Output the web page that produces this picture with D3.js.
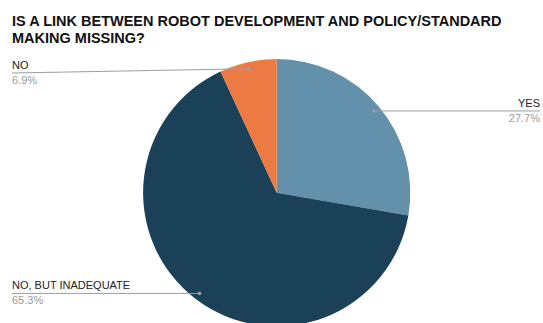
<!DOCTYPE html>
<html>
<head>
<meta charset="utf-8">
<script src="https://cdn.jsdelivr.net/npm/d3@7"></script>
<style>
  body { margin: 0; background: #fff; }
  svg { display: block; font-family: "Liberation Sans", Arial, sans-serif; }
</style>
</head>
<body>
<svg id="chart"></svg>
<script>
const categories = ["YES", "NO, BUT INADEQUATE", "NO"];
const values = [27.7, 65.3, 6.9];
const colors = ["#6390ab", "#1b4159", "#ec7a42"];
const titleLines = ["IS A LINK BETWEEN ROBOT DEVELOPMENT AND POLICY/STANDARD", "MAKING MISSING?"];

const width = 543;
const height = 323;
const cx = 276.7;
const cy = 192.7;
const radius = 133.6;

// where each label sits: side and y of the leader line at the text end
const labelPos = [
  { side: "right", x: 540, y: null },
  { side: "left", x: 12, y: null },
  { side: "left", x: 12, y: 73 }
];

const svg = d3.select("#chart").attr("width", width).attr("height", height);

svg
  .selectAll("text.title")
  .data(titleLines)
  .enter()
  .append("text")
  .attr("class", "title")
  .attr("x", 12)
  .attr("y", (d, i) => 26 + i * 17)
  .style("font-size", "14.5px")
  .style("font-weight", "bold")
  .style("fill", "#111")
  .text((d) => d);

const pie = d3.pie().sort(null).value((d) => d);
const arcs = pie(values);

const arc = d3.arc().innerRadius(0).outerRadius(radius);
const dotArc = d3.arc().innerRadius(radius * 0.95).outerRadius(radius * 0.95);

const g = svg.append("g").attr("transform", `translate(${cx},${cy})`);

g.selectAll("path")
  .data(arcs)
  .enter()
  .append("path")
  .attr("d", arc)
  .attr("fill", (d, i) => colors[i]);

arcs.forEach((d, i) => {
  const c = dotArc.centroid(d);
  const dx = cx + c[0];
  const dy = cy + c[1];
  const p = labelPos[i];
  const ly = p.y == null ? dy : p.y;

  svg
    .append("line")
    .attr("x1", p.x)
    .attr("y1", ly)
    .attr("x2", dx)
    .attr("y2", dy)
    .attr("stroke", "#9e9e9e")
    .attr("stroke-width", 1);

  svg
    .append("circle")
    .attr("cx", dx)
    .attr("cy", dy)
    .attr("r", 1.8)
    .attr("fill", "#9e9e9e");

  const anchor = p.side === "right" ? "end" : "start";

  svg
    .append("text")
    .attr("x", p.x)
    .attr("y", ly - 4.3)
    .attr("text-anchor", anchor)
    .style("font-size", "11px")
    .style("fill", "#222")
    .text(categories[i]);

  svg
    .append("text")
    .attr("x", p.x)
    .attr("y", ly + 11)
    .attr("text-anchor", anchor)
    .style("font-size", "11px")
    .style("fill", "#9a9a9a")
    .text(values[i].toFixed(1) + "%");
});
</script>
</body>
</html>
